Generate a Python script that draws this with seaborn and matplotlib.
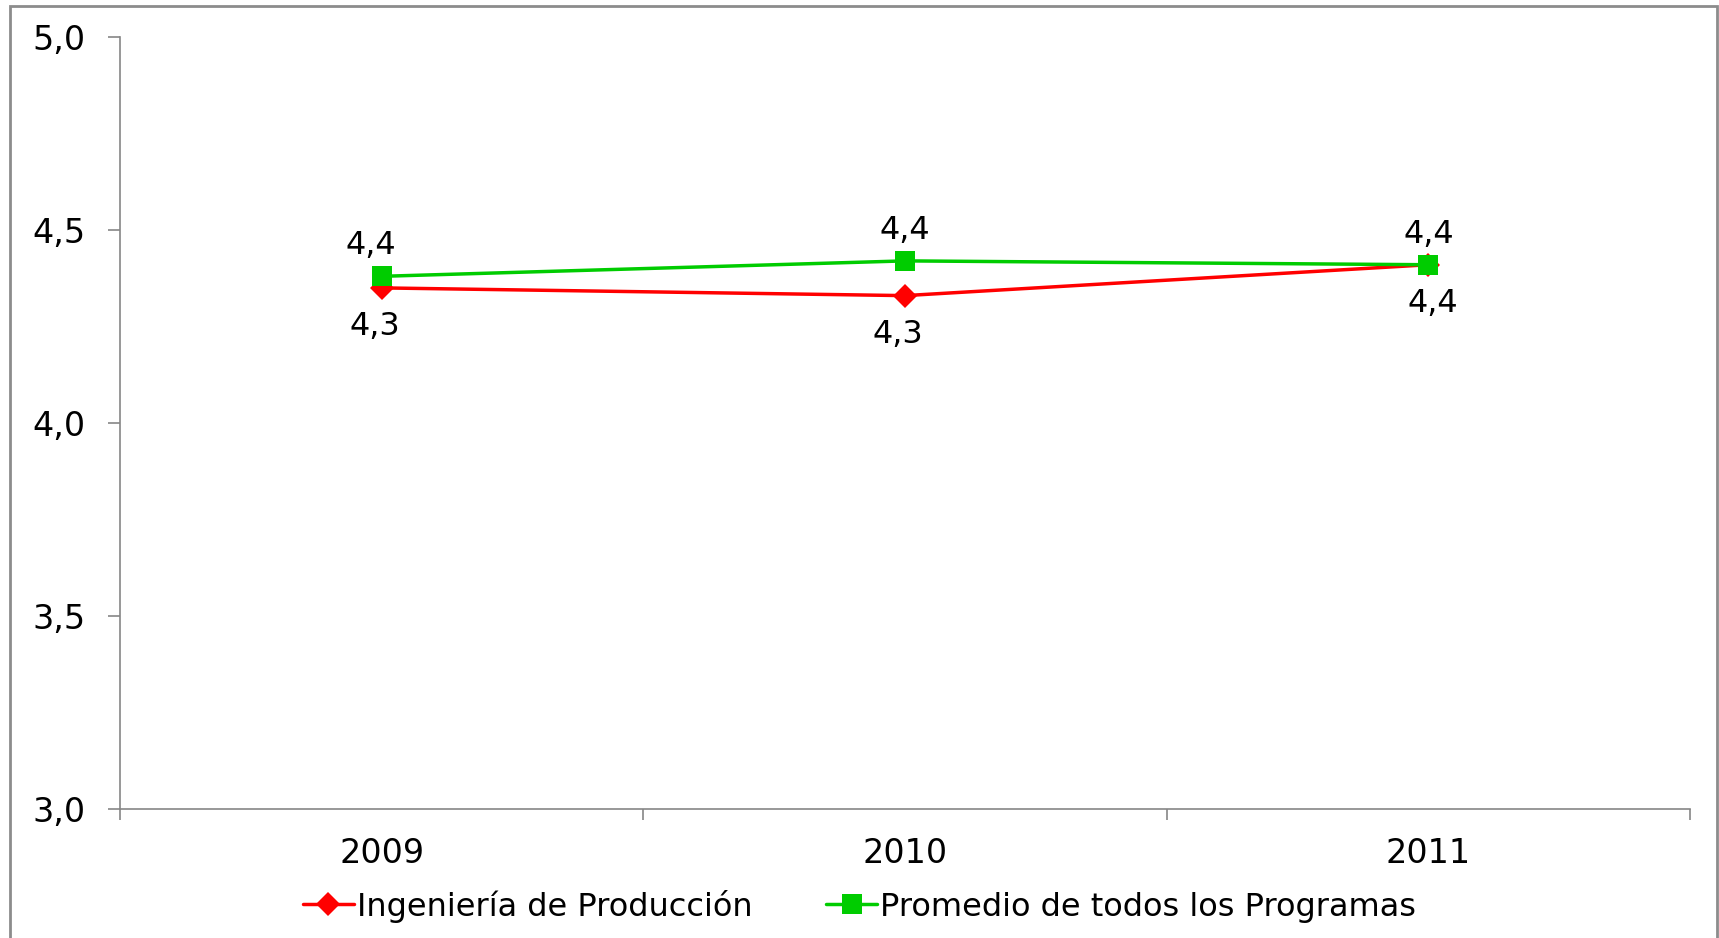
import pandas as pd
import numpy as np
import matplotlib.pyplot as plt
import seaborn as sns
from matplotlib.patches import Rectangle

# ------------------------------------------------------------
# Données
# ------------------------------------------------------------
years = ["2009", "2010", "2011"]
ingenieria = [4.35, 4.33, 4.41]
promedio = [4.38, 4.42, 4.41]
serie_ing = "Ingeniería de Producción"
serie_prom = "Promedio de todos los Programas"
yticks = [3.0, 3.5, 4.0, 4.5, 5.0]

df = pd.DataFrame({
    "Año": years * 2,
    "Valor": ingenieria + promedio,
    "Serie": [serie_ing] * len(years) + [serie_prom] * len(years),
})

# ------------------------------------------------------------
# Figure
# ------------------------------------------------------------
sns.set_style("white")
plt.rcParams["font.family"] = ["DejaVu Sans"]
plt.rcParams["text.color"] = "black"
plt.rcParams["xtick.labelcolor"] = "black"
plt.rcParams["ytick.labelcolor"] = "black"

fig = plt.figure(figsize=(17.19, 9.38), dpi=100)
W, H = 1719, 938
ax = fig.add_axes([120 / W, 1 - 809 / H, (1690 - 120) / W, (809 - 37) / H])

colors = {serie_ing: "#FF0000", serie_prom: "#00CC00"}
markers = {serie_ing: "D", serie_prom: "s"}
sns.lineplot(data=df, x="Año", y="Valor", hue="Serie", style="Serie",
             palette=colors, markers=markers, dashes=False,
             linewidth=2.5, markersize=15, markeredgewidth=0, ax=ax)
for line in ax.lines:
    if line.get_marker() == "D":
        line.set_markersize(12)

# étiquettes des valeurs
for i, v in enumerate(promedio):
    ax.annotate(f"{v:.1f}".replace(".", ","), (i, v), xytext=(-8 if i == 0 else 0, 22),
                textcoords="offset points", ha="center", va="center", fontsize=23,
                color="black")
for i, v in enumerate(ingenieria):
    ax.annotate(f"{v:.1f}".replace(".", ","), (i, v), xytext=(-5 if i < 2 else 3, -28),
                textcoords="offset points", ha="center", va="center", fontsize=23,
                color="black")

# axes
ax.set_ylim(3.0, 5.0)
ax.set_yticks(yticks)
ax.set_yticklabels([f"{t:.1f}".replace(".", ",") for t in yticks], fontsize=24)
ax.set_xlim(-0.5, 2.5)
ax.set_xticks(range(len(years)))
ax.set_xticklabels(years, fontsize=24)
ax.set_xticks(np.arange(-0.5, 2.6, 1.0), minor=True)
ax.tick_params(axis="x", which="major", bottom=True, length=0, pad=20, labelcolor="black")
ax.tick_params(axis="x", which="minor", bottom=True, length=8, color="#868686", width=1.2)
ax.tick_params(axis="y", left=True, length=9, color="#868686", width=1.2, pad=16,
               labelcolor="black")
ax.set_xlabel("")
ax.set_ylabel("")
for s in ["top", "right"]:
    ax.spines[s].set_visible(False)
for s in ["left", "bottom"]:
    ax.spines[s].set_color("#868686")
    ax.spines[s].set_linewidth(1.2)

handles, labels = ax.get_legend_handles_labels()
ax.get_legend().remove()
leg = fig.legend(handles, labels, loc="center", bbox_to_anchor=(0.5, 1 - 906 / H),
                 ncol=2, frameon=False, fontsize=23, handlelength=1.6,
                 handletextpad=0.1, columnspacing=2.3)
for t in leg.get_texts():
    t.set_color("black")

# cadre gris autour du graphique
fig.patches.append(Rectangle((10 / W, -0.01), (1717 - 10) / W, 1 - 6 / H + 0.01,
                             transform=fig.transFigure, fill=False,
                             edgecolor="#8C8C8C", linewidth=2))

fig.savefig("out.png", dpi=100)
